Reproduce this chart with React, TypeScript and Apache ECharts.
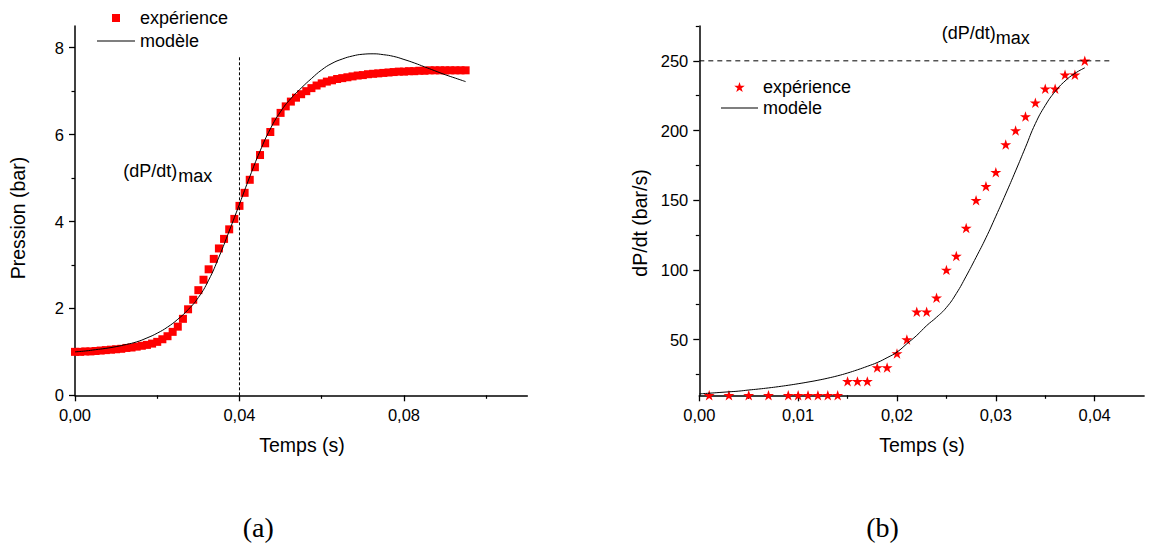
import React, { useEffect, useRef } from "react";
import * as echarts from "echarts";

// ---------- Data (a) : pressure vs time ----------
const timeExpA = [
  0, 0.00125, 0.0025, 0.00375, 0.005, 0.00625, 0.0075, 0.00875, 0.01, 0.01125,
  0.0125, 0.01375, 0.015, 0.01625, 0.0175, 0.01875, 0.02, 0.02125, 0.0225, 0.02375,
  0.025, 0.02625, 0.0275, 0.02875, 0.03, 0.03125, 0.0325, 0.03375, 0.035, 0.03625,
  0.0375, 0.03875, 0.04, 0.04125, 0.0425, 0.04375, 0.045, 0.04625, 0.0475, 0.04875,
  0.05, 0.05125, 0.0525, 0.05375, 0.055, 0.05625, 0.0575, 0.05875, 0.06, 0.06125,
  0.0625, 0.06375, 0.065, 0.06625, 0.0675, 0.06875, 0.07, 0.07125, 0.0725, 0.07375,
  0.075, 0.07625, 0.0775, 0.07875, 0.08, 0.08125, 0.0825, 0.08375, 0.085, 0.08625,
  0.0875, 0.08875, 0.09, 0.09125, 0.0925, 0.09375, 0.095,
];
const pressureExpA = [
  1.0, 1.0, 1.01, 1.01, 1.02, 1.03, 1.04, 1.05, 1.06, 1.07,
  1.09, 1.1, 1.12, 1.14, 1.16, 1.19, 1.23, 1.29, 1.36, 1.46,
  1.58, 1.76, 1.98, 2.2, 2.42, 2.66, 2.9, 3.14, 3.38, 3.6,
  3.82, 4.06, 4.36, 4.66, 4.96, 5.25, 5.53, 5.8, 6.06, 6.3,
  6.5, 6.65, 6.76, 6.85, 6.93, 7.0, 7.07, 7.13, 7.18, 7.22,
  7.25, 7.28, 7.3, 7.32, 7.34, 7.36, 7.37, 7.39, 7.4, 7.41,
  7.42, 7.43, 7.44, 7.45, 7.45, 7.46, 7.46, 7.47, 7.47, 7.48,
  7.48, 7.48, 7.48, 7.48, 7.48, 7.48, 7.48,
];
const timeModelA = [
  0, 0.0025, 0.005, 0.0075, 0.01, 0.0125, 0.015, 0.0175, 0.02, 0.0225,
  0.025, 0.0275, 0.03, 0.0325, 0.035, 0.0375, 0.04, 0.0425, 0.045, 0.0475,
  0.05, 0.0525, 0.055, 0.0575, 0.06, 0.0625, 0.065, 0.0675, 0.07, 0.0725,
  0.075, 0.0775, 0.08, 0.0825, 0.085, 0.0875, 0.09, 0.0925, 0.095,
];
const pressureModelA = [
  1.0, 1.02, 1.05, 1.08, 1.12, 1.17, 1.23, 1.32, 1.43, 1.57,
  1.75, 1.97, 2.25, 2.65, 3.18, 3.78, 4.4, 5.03, 5.62, 6.13,
  6.53, 6.83, 7.07, 7.29, 7.49, 7.64, 7.74, 7.81, 7.85, 7.86,
  7.84, 7.8, 7.73, 7.65, 7.56, 7.47, 7.38, 7.3, 7.22,
];
const markerLineA = [
  [0.04, 0],
  [0.04, 7.8],
];
const xTicksA = [0, 0.04, 0.08];
const xMinorA = [0.02, 0.06, 0.1];
const yTicksA = [0, 2, 4, 6, 8];
const yMinorA = [1, 3, 5, 7];

// ---------- Data (b) : dP/dt vs time ----------
const timeExpB = [
  0.001, 0.003, 0.005, 0.007, 0.009, 0.01, 0.011, 0.012, 0.013, 0.014,
  0.015, 0.016, 0.017, 0.018, 0.019, 0.02, 0.021, 0.022, 0.023, 0.024,
  0.025, 0.026, 0.027, 0.028, 0.029, 0.03, 0.031, 0.032, 0.033, 0.034,
  0.035, 0.036, 0.037, 0.038, 0.039,
];
const dpdtExpB = [
  10, 10, 10, 10, 10, 10, 10, 10, 10, 10,
  20, 20, 20, 30, 30, 40, 50, 70, 70, 80,
  100, 110, 130, 150, 160, 170, 190, 200, 210, 220,
  230, 230, 240, 240, 250,
];
const timeModelB = [
  0, 0.001, 0.002, 0.003, 0.004, 0.005, 0.006, 0.007, 0.008, 0.009, 0.01,
  0.011, 0.012, 0.013, 0.014, 0.015, 0.016, 0.017, 0.018, 0.019, 0.02,
  0.021, 0.022, 0.023, 0.024, 0.025, 0.026, 0.027, 0.028, 0.029, 0.03,
  0.031, 0.032, 0.033, 0.034, 0.035, 0.036, 0.037, 0.038, 0.039,
];
const dpdtModelB = [
  11, 11.5, 12, 12.5, 13, 13.8, 14.5, 15.3, 16.2, 17.2, 18.3,
  19.5, 20.8, 22.3, 24, 26, 28.3, 30.8, 33.5, 37, 41,
  47, 53, 60, 66, 73, 83, 95.5, 109, 123, 138.5,
  154.5, 171, 188, 205, 218, 228, 235.5, 241, 245,
];
const markerLineB = [
  [0, 250],
  [0.0415, 250],
];
const xTicksB = [0, 0.01, 0.02, 0.03, 0.04];
const xMinorB = [0.005, 0.015, 0.025, 0.035];
const yTicksB = [50, 100, 150, 200, 250];
const yMinorB = [25, 75, 125, 175, 225, 275];

const FONT = "'Liberation Sans', Arial, sans-serif";
const STAR =
  "path://M50,0L61.2,34.5L97.6,34.5L68.2,55.9L79.4,90.5L50,69.1L20.6,90.5L31.8,55.9L2.4,34.5L38.8,34.5Z";
const SQUARE = "path://M0,0L10,0L10,10L0,10Z";
const LINE_ICON = "path://M0,0L380,0L380,10L0,10Z";

const zip = (xs: number[], ys: number[]) => xs.map((x, i) => [x, ys[i]]);
const fmtX = (v: number) => v.toFixed(2).replace(".", ",");

function mainAxis(
  gridIndex: number,
  position: string,
  min: number,
  max: number,
  ticks: number[],
  formatter: (v: number) => string
) {
  return {
    type: "value",
    gridIndex,
    position,
    min,
    max,
    axisLine: { show: true, onZero: false, lineStyle: { color: "#000", width: 1.5 } },
    axisTick: {
      show: true,
      customValues: ticks,
      length: 6,
      lineStyle: { color: "#000", width: 1.3 },
    },
    axisLabel: {
      show: true,
      customValues: ticks,
      formatter,
      margin: 11,
      fontSize: 16.5,
      fontFamily: FONT,
      color: "#000",
    },
    splitLine: { show: false },
  };
}

function minorAxis(gridIndex: number, position: string, min: number, max: number, ticks: number[]) {
  return {
    type: "value",
    gridIndex,
    position,
    min,
    max,
    axisLine: { show: false, onZero: false },
    axisTick: {
      show: true,
      customValues: ticks,
      length: 3.5,
      lineStyle: { color: "#000", width: 1.2 },
    },
    axisLabel: { show: false },
    splitLine: { show: false },
  };
}

const textStyle = (size: number, family = FONT) => ({
  fontSize: size,
  fontFamily: family,
  fill: "#000",
});

export default function App() {
  const ref = useRef<HTMLDivElement>(null);

  useEffect(() => {
    if (!ref.current) return;
    const chart = echarts.init(ref.current, null, { renderer: "svg" });
    const option: any = {
      animation: false,
      backgroundColor: "#fff",
      grid: [
        { left: 75, top: 26, width: 452.3, height: 369.3 },
        { left: 699.3, top: 26, width: 444.8, height: 369.3 },
      ],
      xAxis: [
        mainAxis(0, "bottom", 0, 0.11, xTicksA, fmtX),
        minorAxis(0, "bottom", 0, 0.11, xMinorA),
        mainAxis(1, "bottom", 0, 0.045, xTicksB, fmtX),
        minorAxis(1, "bottom", 0, 0.045, xMinorB),
      ],
      yAxis: [
        mainAxis(0, "left", 0, 8.5, yTicksA, (v: number) => String(v)),
        minorAxis(0, "left", 0, 8.5, yMinorA),
        mainAxis(1, "left", 10, 275, yTicksB, (v: number) => String(v)),
        minorAxis(1, "left", 10, 275, yMinorB),
      ],
      legend: [
        {
          left: 97,
          top: 9,
          orient: "vertical",
          padding: 0,
          itemWidth: 38,
          itemHeight: 8,
          itemGap: 5,
          symbolKeepAspect: true,
          data: [
            { name: "expérience", icon: SQUARE },
            { name: "modèle", icon: LINE_ICON },
          ],
          textStyle: { fontSize: 18, fontFamily: FONT, color: "#000" },
        },
        {
          left: 721,
          top: 78,
          orient: "vertical",
          padding: 0,
          itemWidth: 37,
          itemHeight: 10,
          itemGap: 3,
          symbolKeepAspect: true,
          data: [
            { name: "expérience", icon: STAR },
            { name: "modèle", icon: LINE_ICON },
          ],
          textStyle: { fontSize: 18, fontFamily: FONT, color: "#000" },
        },
      ],
      series: [
        {
          name: "expérience",
          type: "scatter",
          xAxisIndex: 0,
          yAxisIndex: 0,
          symbol: "rect",
          symbolSize: 8,
          clip: false,
          itemStyle: { color: "#ff0000", opacity: 1 },
          data: zip(timeExpA, pressureExpA),
        },
        {
          name: "modèle",
          type: "line",
          xAxisIndex: 0,
          yAxisIndex: 0,
          symbol: "none",
          showSymbol: false,
          smooth: true,
          lineStyle: { color: "#000", width: 1 },
          itemStyle: { color: "#000" },
          data: zip(timeModelA, pressureModelA),
        },
        {
          name: "markerA",
          type: "line",
          xAxisIndex: 0,
          yAxisIndex: 0,
          symbol: "none",
          silent: true,
          lineStyle: { color: "#000", width: 1, type: [3, 2] },
          data: markerLineA,
        },
        {
          name: "expérience",
          type: "scatter",
          xAxisIndex: 2,
          yAxisIndex: 2,
          symbol: STAR,
          symbolSize: 11,
          symbolKeepAspect: true,
          clip: false,
          itemStyle: { color: "#ff0000", opacity: 1 },
          data: zip(timeExpB, dpdtExpB),
        },
        {
          name: "modèle",
          type: "line",
          xAxisIndex: 2,
          yAxisIndex: 2,
          symbol: "none",
          showSymbol: false,
          smooth: true,
          lineStyle: { color: "#000", width: 1 },
          itemStyle: { color: "#000" },
          data: zip(timeModelB, dpdtModelB),
        },
        {
          name: "markerB",
          type: "line",
          xAxisIndex: 2,
          yAxisIndex: 2,
          symbol: "none",
          silent: true,
          lineStyle: { color: "#000", width: 1, type: [5, 4] },
          data: markerLineB,
        },
      ],
      graphic: [
        // axis titles
        {
          type: "text",
          x: 302,
          y: 444.5,
          style: { text: "Temps (s)", align: "center", verticalAlign: "middle", ...textStyle(19.5) },
        },
        {
          type: "text",
          x: 922,
          y: 444.5,
          style: { text: "Temps (s)", align: "center", verticalAlign: "middle", ...textStyle(19.5) },
        },
        {
          type: "text",
          x: 17.5,
          y: 218,
          rotation: Math.PI / 2,
          style: { text: "Pression (bar)", align: "center", verticalAlign: "middle", ...textStyle(19.5) },
        },
        {
          type: "text",
          x: 639.5,
          y: 223,
          rotation: Math.PI / 2,
          style: { text: "dP/dt (bar/s)", align: "center", verticalAlign: "middle", ...textStyle(19.5) },
        },
        // (dP/dt)max annotations
        {
          type: "text",
          x: 123.3,
          y: 171,
          style: { text: "(dP/dt)", align: "left", verticalAlign: "middle", ...textStyle(18) },
        },
        {
          type: "text",
          x: 178.3,
          y: 175.5,
          style: { text: "max", align: "left", verticalAlign: "middle", ...textStyle(18) },
        },
        {
          type: "text",
          x: 941.7,
          y: 32.6,
          style: { text: "(dP/dt)", align: "left", verticalAlign: "middle", ...textStyle(18) },
        },
        {
          type: "text",
          x: 995.7,
          y: 37.5,
          style: { text: "max", align: "left", verticalAlign: "middle", ...textStyle(18) },
        },
        // panel captions
        {
          type: "text",
          x: 258.3,
          y: 527.5,
          style: {
            text: "(a)",
            align: "center",
            verticalAlign: "middle",
            ...textStyle(28, "'Liberation Serif', 'DejaVu Serif', serif"),
          },
        },
        {
          type: "text",
          x: 882.5,
          y: 527.5,
          style: {
            text: "(b)",
            align: "center",
            verticalAlign: "middle",
            ...textStyle(28, "'Liberation Serif', 'DejaVu Serif', serif"),
          },
        },
      ],
    };
    chart.setOption(option);
    return () => chart.dispose();
  }, []);

  return (
    <div
      ref={ref}
      style={{ position: "fixed", left: 0, top: 0, width: 1153, height: 551, background: "#fff" }}
    />
  );
}
